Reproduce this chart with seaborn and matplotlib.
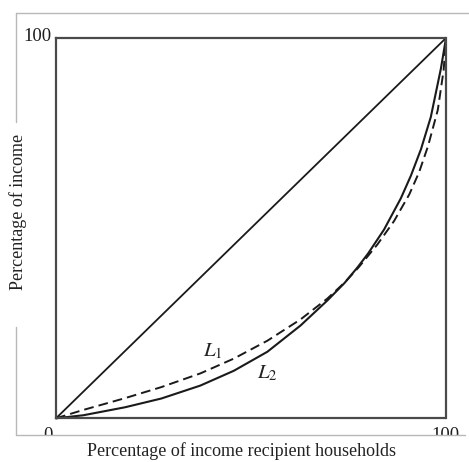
import matplotlib
matplotlib.use("Agg")
import matplotlib.pyplot as plt
import seaborn as sns
from matplotlib.lines import Line2D
from matplotlib.patches import Rectangle

# ---- data ----
equality_x = [0, 100]
equality_y = [0, 100]

l1_x = [0, 7, 17.7, 27, 37, 45.6, 54.2, 62.7, 69.6, 74, 77.6, 82.4, 86.7, 90.6, 93.1, 95.4, 97.9, 99.4, 100]
l1_y = [0, 2.2, 5.3, 8.2, 11.8, 15.7, 20.4, 26.0, 31.5, 35.7, 39.7, 45.7, 51.9, 58.9, 64.7, 71.6, 81.1, 91.6, 100]

l2_x = [0, 7, 17.7, 27, 37, 45.6, 54.2, 62.7, 69.6, 74, 77.4, 80, 84.1, 88.4, 91, 93.6, 96.1, 98.7, 100]
l2_y = [0, 0.8, 2.9, 5.2, 8.6, 12.5, 17.5, 24.4, 31.0, 35.6, 39.8, 43.3, 49.6, 57.8, 63.8, 70.8, 79.2, 92.0, 100]

label_l1 = (40.3, 17.6)
label_l2 = (54.2, 11.8)

x_ticklabels = ["0", "100"]
y_ticklabels = ["100"]
xlabel = "Percentage of income recipient households"
ylabel = "Percentage of income"

# ---- style ----
sns.set_style("white")
plt.rcParams["font.family"] = ["Liberation Serif", "DejaVu Serif"]
plt.rcParams["mathtext.fontset"] = "stix"

W, H = 469, 462
fig = plt.figure(figsize=(W / 100, H / 100), dpi=100)

def fx(px):
    return px / W

def fy(py):
    return 1 - py / H

ax = fig.add_axes([fx(56), fy(418.3), fx(446) - fx(56), fy(38) - fy(418.3)])

sns.lineplot(x=equality_x, y=equality_y, ax=ax, color="#1a1a1a", lw=1.3, clip_on=False)
sns.lineplot(x=l1_x, y=l1_y, ax=ax, color="#1a1a1a", lw=1.4,
             linestyle=(0, (5, 2.6)), clip_on=False)
sns.lineplot(x=l2_x, y=l2_y, ax=ax, color="#1a1a1a", lw=1.5, clip_on=False)

ax.set_xlim(0, 100)
ax.set_ylim(0, 100)
ax.set_xticks([])
ax.set_yticks([])
ax.set_xlabel("")
ax.set_ylabel("")

for side, sp in ax.spines.items():
    sp.set_visible(True)
    sp.set_color("#4a4a4a")
    sp.set_linewidth(1.6)
ax.spines["top"].set_linestyle((0, (7, 1)))
ax.spines["bottom"].set_linestyle((0, (7, 1)))

ax.text(*label_l1, r"$L_1$", fontsize=15, ha="center", va="center", color="#222")
ax.text(*label_l2, r"$L_2$", fontsize=15, ha="center", va="center", color="#222")

# tick labels drawn as text
fig.text(fx(52), fy(36.5), y_ticklabels[0], ha="right", va="center", fontsize=13.5, color="#1e1e1e")
fig.text(fx(47.5), fy(435), x_ticklabels[0], ha="center", va="center", fontsize=13.5, color="#1e1e1e")
fig.text(fx(445), fy(435), x_ticklabels[1], ha="center", va="center", fontsize=13.5, color="#1e1e1e")

# cover lower part of the clipped tick labels
fig.add_artist(Rectangle((0, 0), 1, fy(435.5), transform=fig.transFigure,
                         facecolor="white", edgecolor="none", zorder=5))

# outer light frame
fc = "#b8b8b8"
fig.add_artist(Line2D([fx(16), fx(469)], [fy(13.3), fy(13.3)], color=fc, lw=1.0, zorder=6))
fig.add_artist(Line2D([fx(16), fx(465)], [fy(435), fy(435)], color=fc, lw=1.0, zorder=6))
fig.add_artist(Line2D([fx(16), fx(16)], [fy(13.3), fy(122)], color=fc, lw=1.0, zorder=6))
fig.add_artist(Line2D([fx(16), fx(16)], [fy(327), fy(435)], color=fc, lw=1.0, zorder=6))

fig.text(fx(241.5), fy(451), xlabel, ha="center", va="center", fontsize=13, color="#222", zorder=7)
fig.text(fx(18), fy(212), ylabel, ha="center", va="center", rotation=90, fontsize=13,
         color="#222", zorder=7)

fig.savefig("out.png", dpi=100, facecolor="white")
